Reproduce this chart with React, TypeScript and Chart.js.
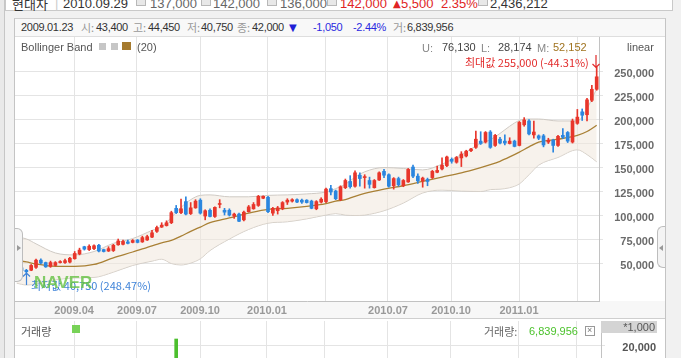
import React, { useEffect, useRef } from "react";
import { Chart, registerables } from "chart.js";
Chart.register(...registerables);

// ---- weekly candles (index 0 = first week shown, early Jan 2009) ----
const opens = [
  44000, 46000, 43400, 43500, 46500, 54000, 51500, 47500, 48500, 51500,
  51500, 52000, 55500, 60500, 68000, 65000, 66000, 69500, 65000, 63500,
  64000, 70000, 70500, 73000, 72500, 75000, 73000, 75000, 78000, 84000,
  88500, 90000, 93000, 108000, 103500, 115000, 102500, 108500, 116500, 100000,
  106000, 99500, 112000, 106000, 106000, 100000, 102000, 96000, 104500, 107500,
  111000, 118500, 119500, 103000, 105500, 107500, 114500, 115500, 117000, 116500,
  116500, 115500, 107500, 114500, 115000, 128500, 126000, 117000, 129500, 136000,
  131000, 142500, 140000, 137000, 129500, 137500, 146500, 143000, 131500, 139000,
  131500, 135500, 151000, 141500, 136500, 138000, 140000, 145500, 149000, 152500,
  159000, 156000, 160500, 162500, 168000, 171500, 178000, 177000, 187500, 173500,
  180000, 178000, 175500, 178000, 173500, 195000, 199000, 184500, 183500, 183500,
  177000, 179000, 173500, 184000, 187000, 177000, 196500, 208500, 205500, 220500,
  232000,
];
const highs = [
  46000, 46500, 44450, 49500, 55000, 55500, 52000, 53000, 52500, 53500,
  55000, 57000, 63000, 66500, 68500, 70000, 70000, 70500, 65500, 68000,
  70500, 76000, 75000, 75000, 75500, 75500, 79000, 80000, 85000, 89500,
  93000, 95000, 105000, 111000, 117500, 120000, 114000, 117000, 118000, 106500,
  107500, 109500, 117000, 108000, 107500, 103000, 103000, 105000, 111000, 114000,
  121500, 121000, 120500, 109000, 110000, 115000, 118000, 118000, 118000, 117500,
  117000, 116500, 116000, 119000, 129000, 132000, 127000, 131500, 138500, 142000,
  147000, 145000, 143000, 140500, 138000, 146000, 148500, 144000, 140000, 140500,
  138000, 149500, 153000, 144000, 140500, 139500, 147500, 152000, 160500, 162500,
  160500, 162000, 167000, 168500, 170500, 188500, 187800, 188000, 189000, 185000,
  182000, 184500, 181500, 179000, 198500, 202500, 200500, 199000, 184500, 185000,
  181000, 180000, 184000, 191000, 188000, 201000, 211000, 211500, 222500, 236000,
  255000,
];
const lows = [
  43500, 42500, 40750, 43000, 45500, 50000, 46500, 46500, 48000, 51000,
  50500, 51000, 55000, 59500, 64500, 64000, 65000, 62500, 62500, 63000,
  63000, 69500, 70000, 71000, 72000, 72000, 72500, 74500, 77500, 83000,
  88000, 89500, 92000, 102500, 102500, 101000, 101500, 108000, 102000, 96000,
  99000, 98500, 108500, 101000, 100000, 97500, 94000, 95000, 104000, 107000,
  110000, 118000, 103500, 100500, 102000, 106500, 112000, 114500, 114000, 113000,
  113500, 107500, 106500, 113500, 114000, 122000, 117000, 116000, 128500, 129000,
  130000, 131000, 129000, 129000, 129000, 137000, 140000, 130000, 128000, 131000,
  130500, 135000, 140000, 134000, 130000, 131500, 139000, 145000, 148000, 151500,
  155000, 155000, 151500, 161500, 167000, 170500, 174500, 176000, 170500, 172500,
  175000, 174000, 175000, 172000, 173000, 193500, 184500, 181000, 179500, 172000,
  175500, 166500, 172500, 180500, 176500, 176000, 195500, 199500, 199000, 219000,
  231000,
];
const closes = [
  45500, 43000, 42000, 48500, 54000, 51000, 47000, 51500, 51500, 52500,
  53500, 56000, 61000, 64500, 65500, 68500, 69000, 63500, 63000, 66000,
  69500, 74000, 73500, 71500, 74500, 72500, 77500, 78500, 82500, 88000,
  90500, 93000, 103500, 103500, 107500, 102000, 108500, 115500, 103000, 105500,
  99500, 109000, 112500, 104000, 101000, 102000, 94500, 104000, 109500, 112000,
  120500, 120500, 104500, 108000, 108500, 114000, 116500, 117000, 114500, 114500,
  114000, 108000, 115000, 117500, 128000, 125000, 118000, 130500, 137000, 130500,
  145000, 139000, 141000, 133000, 137000, 145000, 142500, 131000, 139000, 132500,
  137000, 148500, 141500, 136500, 139500, 136000, 146500, 147500, 153000, 161500,
  157000, 161000, 164500, 167500, 169800, 180000, 175500, 187000, 171500, 184000,
  176000, 176000, 178000, 172500, 197500, 200000, 185500, 187500, 181000, 174000,
  179000, 173500, 183000, 182000, 178000, 199000, 203000, 205000, 221000, 232000,
  245000,
];

// ---- Bollinger band (20), read at sampled weeks ----
const bandIndex = [0, 2, 4, 8, 12, 16, 20, 24, 28, 30, 32, 34, 36, 38, 40, 44, 48, 52, 56, 60, 64, 66, 68, 70, 72, 76, 80, 84, 88, 92, 96, 98, 100, 102, 104, 106, 108, 112, 116, 118, 120];
const bandUpper = [78000, 76130, 71000, 61500, 59500, 63000, 71500, 76500, 85000, 89000, 98500, 109000, 117000, 121500, 122000, 120000, 120000, 121500, 122000, 123000, 125000, 128500, 133000, 140500, 146000, 150500, 149500, 148000, 154000, 164000, 175500, 179500, 186000, 193500, 199500, 201000, 201000, 199000, 199000, 212000, 232500];
const bandMiddle = [54000, 52152, 50000, 47500, 47500, 49500, 56500, 62500, 69000, 72000, 74500, 79000, 84000, 88500, 93000, 98000, 103000, 107000, 108000, 110000, 113000, 115500, 117000, 120500, 123500, 128000, 131500, 136000, 140500, 145000, 150500, 153500, 157000, 161500, 166500, 172000, 177000, 180000, 184000, 188000, 194500];
const bandLower = [30000, 28174, 29000, 33500, 35500, 36000, 41500, 48500, 53000, 55000, 50500, 49000, 51000, 55500, 64000, 76000, 86000, 92500, 94000, 97000, 101000, 102500, 101000, 100500, 101000, 105500, 113500, 124000, 127000, 126000, 125500, 127500, 128000, 129500, 133500, 143000, 153000, 161000, 169000, 164000, 156500];

// ---- axes ----
const quarterPositions = [11.86, 24.89, 37.93, 51.79, 63.79, 76.82, 89.86, 103.93, 115.93];
const quarterLabels = ["2009.04", "2009.07", "2009.10", "2010.01", "", "2010.07", "2010.10", "2011.01", ""];
const priceTicks = [50000, 75000, 100000, 125000, 150000, 175000, 200000, 225000, 250000];

// ---- volume (only the bar that rises into view) ----
const volumeIndex = [33];
const volumeValues = [22500];
const volumeTicks = [20000];

const LATIN = '"Liberation Sans", "Noto Sans CJK KR", "DejaVu Sans", sans-serif';
const KR = '"Noto Sans CJK KR", "Liberation Sans", sans-serif';
const RED = "#e8362b";
const BLUE = "#2b86df";

const X_MIN = -0.35;
const X_MAX = 120.48;
const X_MAX_VOL = 120.9;
const Y_MIN = 11458;
const Y_MAX = 286458;

const fmt = (v: number) => String(v).replace(/\B(?=(\d{3})+(?!\d))/g, ",");

const T = ({ x, y, c = "#333", s = 11, w = 400, f = LATIN, ls = 0, children }: any) => (
  <div
    style={{
      position: "absolute",
      left: x,
      top: y - (s + 4) / 2,
      lineHeight: `${s + 4}px`,
      fontSize: s,
      fontWeight: w,
      color: c,
      fontFamily: f,
      letterSpacing: ls,
      whiteSpace: "nowrap",
    }}
  >
    {children}
  </div>
);

const Box = ({ x, y, w, h, style }: any) => (
  <div style={{ position: "absolute", left: x, top: y, width: w, height: h, boxSizing: "border-box", ...style }} />
);

export default function App() {
  const priceRef = useRef<HTMLCanvasElement>(null);
  const volRef = useRef<HTMLCanvasElement>(null);

  useEffect(() => {
    Chart.defaults.font.family = LATIN;
    const colors = opens.map((o, i) => (closes[i] >= o ? RED : BLUE));

    const makeX = (max: number, labels: boolean): any => ({
      type: "linear",
      min: X_MIN,
      max,
      offset: false,
      position: "bottom",
      afterBuildTicks: (s: any) => {
        s.ticks = quarterPositions.map((v) => ({ value: v }));
      },
      ticks: {
        display: labels,
        autoSkip: false,
        maxRotation: 0,
        padding: 3,
        color: "#999999",
        font: { size: 11, weight: "bold", family: LATIN },
        callback: (_v: any, i: number) => quarterLabels[i],
      },
      grid: { color: "#e4e4e4", drawTicks: false, offset: false },
      border: { color: "#c2c2c2" },
      afterFit: (s: any) => {
        s.height = labels ? 17 : 0;
        s.paddingLeft = 0;
        s.paddingRight = 0;
      },
    });

    const makeY = (min: number, max: number, ticks: number[], color: string, labelOffset: number): any => ({
      type: "linear",
      position: "right",
      min,
      max,
      afterBuildTicks: (s: any) => {
        s.ticks = ticks.map((v) => ({ value: v }));
      },
      ticks: {
        callback: (v: any) => fmt(v),
        color,
        font: { size: 11, weight: "bold", family: LATIN },
        crossAlign: "far",
        padding: 4,
        labelOffset,
      },
      grid: { color: "#e4e4e4", tickLength: 4 },
      border: { color: "#c2c2c2" },
      afterFit: (s: any) => {
        s.width = 55;
        s.paddingTop = 0;
        s.paddingBottom = 0;
      },
    });

    const price = new Chart(priceRef.current!, {
      type: "bar",
      data: {
        datasets: [
          {
            type: "bar",
            label: "body",
            data: opens.map((o, i) => ({ x: i, y: [o, closes[i]] })) as any,
            backgroundColor: colors,
            barThickness: 3,
            minBarLength: 1,
            grouped: false,
            borderWidth: 0,
            order: 0,
          } as any,
          {
            type: "bar",
            label: "wick",
            data: lows.map((l, i) => ({ x: i, y: [l, highs[i]] })) as any,
            backgroundColor: colors,
            barThickness: 1,
            grouped: false,
            borderWidth: 0,
            order: 1,
          } as any,
          {
            type: "line",
            label: "middle",
            data: bandIndex.map((x, k) => ({ x, y: bandMiddle[k] })),
            borderColor: "#a98035",
            borderWidth: 1.3,
            pointRadius: 0,
            tension: 0.4,
            cubicInterpolationMode: "monotone",
            fill: false,
            order: 2,
          } as any,
          {
            type: "line",
            label: "upper",
            data: bandIndex.map((x, k) => ({ x, y: bandUpper[k] })),
            borderColor: "#cfcac4",
            borderWidth: 1,
            pointRadius: 0,
            tension: 0.4,
            cubicInterpolationMode: "monotone",
            fill: "+1",
            backgroundColor: "rgba(240,232,220,0.55)",
            order: 3,
          } as any,
          {
            type: "line",
            label: "lower",
            data: bandIndex.map((x, k) => ({ x, y: bandLower[k] })),
            borderColor: "#cfcac4",
            borderWidth: 1,
            pointRadius: 0,
            tension: 0.4,
            cubicInterpolationMode: "monotone",
            fill: false,
            order: 4,
          } as any,
        ],
      },
      options: {
        responsive: false,
        animation: false,
        devicePixelRatio: 1,
        events: [],
        layout: { padding: 0 },
        plugins: { legend: { display: false }, tooltip: { enabled: false } },
        scales: {
          x: makeX(X_MAX, true),
          y: makeY(Y_MIN, Y_MAX, priceTicks, "#6a6a6a", 2),
        },
      } as any,
    });

    const vol = new Chart(volRef.current!, {
      type: "bar",
      data: {
        datasets: [
          {
            label: "volume",
            data: volumeIndex.map((x, k) => ({ x, y: volumeValues[k] })),
            backgroundColor: "#4cbf2e",
            barThickness: 3,
            borderWidth: 0,
          } as any,
        ],
      },
      options: {
        responsive: false,
        animation: false,
        devicePixelRatio: 1,
        events: [],
        layout: { padding: { top: 2 } },
        plugins: { legend: { display: false }, tooltip: { enabled: false } },
        scales: {
          x: makeX(X_MAX_VOL, false),
          y: makeY(0, 30000, volumeTicks, "#555555", 3),
        },
      } as any,
    });

    return () => {
      price.destroy();
      vol.destroy();
    };
  }, []);

  const icon = (x: number) => (
    <Box x={x} y={-4} w={10} h={10} style={{ border: "1px solid #b8b8b8", background: "#e8e8e8" }} />
  );

  return (
    <div
      style={{
        position: "absolute",
        left: 0,
        top: 0,
        width: 681,
        height: 358,
        overflow: "hidden",
        background: "#f1f1f1",
      }}
    >
      {/* left frame */}
      <Box x={0} y={0} w={4} h={358} style={{ background: "#e9e9e9" }} />
      <Box x={4} y={0} w={1} h={358} style={{ background: "#c6c6c6" }} />

      {/* header box (cut off at top) */}
      <Box x={5} y={-12} w={668} h={23} style={{ background: "#fff", border: "1px solid #c9c9c9" }} />
      <T x={12} y={3.7} s={13} c="#333" f={KR}>현대차</T>
      <T x={55} y={3.7} s={13} c="#cccccc">|</T>
      <T x={63} y={3.7} s={13} c="#333">2010.09.29</T>
      {icon(136)}
      <T x={150} y={3.7} s={13} c="#666">137,000</T>
      {icon(201)}
      <T x={213} y={3.7} s={13} c="#666">142,000</T>
      {icon(267)}
      <T x={280} y={3.7} s={13} c="#666">136,000</T>
      {icon(327)}
      <T x={340} y={3.7} s={13} c="#e02424">142,000</T>
      <T x={393} y={3.7} s={10} c="#e02424" f='"DejaVu Sans", sans-serif'>▲</T>
      <T x={401} y={3.7} s={13} c="#e02424">5,500</T>
      <T x={441} y={3.7} s={13} c="#e02424">2.35%</T>
      {icon(478)}
      <T x={490} y={3.7} s={13} c="#333">2,436,212</T>

      {/* chart frame */}
      <Box
        x={14}
        y={18}
        w={652}
        h={345}
        style={{
          background: "#fff",
          borderLeft: "1px solid #c4c4c4",
          borderRight: "1px solid #c4c4c4",
          borderTop: "1px solid #cfcfcf",
        }}
      />
      {/* info bar */}
      <Box x={15} y={19} w={650} h={18} style={{ background: "#f8f8f8", borderBottom: "1px solid #dedede" }} />
      <T x={21} y={27.5} ls={-0.3}>2009.01.23</T>
      <T x={81} y={27.5} c="#999" f={KR}>시:</T>
      <T x={96} y={27.5} ls={-0.3}>43,400</T>
      <T x={133} y={27.5} c="#999" f={KR}>고:</T>
      <T x={148} y={27.5} ls={-0.3}>44,450</T>
      <T x={187} y={27.5} c="#999" f={KR}>저:</T>
      <T x={201} y={27.5} ls={-0.3}>40,750</T>
      <T x={237} y={27.5} c="#999" f={KR}>종:</T>
      <T x={252} y={27.5} ls={-0.3}>42,000</T>
      <T x={289} y={27.5} s={10} c="#1f1fd6" f='"DejaVu Sans", sans-serif'>▼</T>
      <T x={313} y={27.5} c="#2a2ae0" ls={-0.3}>-1,050</T>
      <T x={353} y={27.5} c="#2a2ae0" ls={-0.3}>-2.44%</T>
      <T x={393} y={27.5} c="#999" f={KR}>거:</T>
      <T x={407} y={27.5} ls={-0.3}>6,839,956</T>

      {/* x label band and volume pane top line */}
      <Box x={15} y={301} w={650} h={18} style={{ background: "#f7f7f7", borderBottom: "1px solid #cfcfcf" }} />

      <canvas
        ref={priceRef}
        width={639}
        height={281}
        style={{ position: "absolute", left: 15, top: 37, width: 639, height: 281 }}
      />
      <canvas
        ref={volRef}
        width={641}
        height={74}
        style={{ position: "absolute", left: 15, top: 319, width: 641, height: 74 }}
      />

      {/* legend row */}
      <T x={21} y={47.5} c="#555">Bollinger Band</T>
      <Box x={99} y={43} w={7} h={7} style={{ background: "#c6c6c6" }} />
      <Box x={111} y={43} w={7} h={7} style={{ background: "#c6c6c6" }} />
      <Box x={122} y={42} w={9} h={8} style={{ background: "#a57a2e" }} />
      <T x={137} y={47.5} c="#555">(20)</T>
      <T x={422} y={48.5} c="#888">U:</T>
      <T x={442} y={47.5} c="#444">76,130</T>
      <T x={481} y={48.5} c="#888">L:</T>
      <T x={498} y={47.5} c="#444">28,174</T>
      <T x={537} y={48.5} c="#888">M:</T>
      <T x={553} y={47.5} c="#a0731f">52,152</T>
      <T x={627} y={47} c="#555">linear</T>

      {/* max / min markers */}
      <T x={465} y={62} c="#e22b2b" f={KR}>최대값 255,000 (-44.31%)</T>
      <svg style={{ position: "absolute", left: 591, top: 55 }} width={10} height={14}>
        <path d="M5 0 V12.5 M1.5 9 L5 12.5 L8.5 9" stroke="#e22b2b" strokeWidth={1.2} fill="none" />
      </svg>
      <T x={31} y={285} c="#3f83d8" f={KR}>최저값 40,750 (248.47%)</T>
      <svg style={{ position: "absolute", left: 22, top: 272 }} width={10} height={14}>
        <path d="M4.5 1 V13 M1 4.5 L4.5 1 L8 4.5" stroke="#3f83d8" strokeWidth={1.2} fill="none" />
      </svg>
      <div
        style={{
          position: "absolute",
          left: 34,
          top: 273,
          fontFamily: LATIN,
          fontWeight: 700,
          fontSize: 17,
          lineHeight: "19px",
          color: "#62c03f",
          opacity: 0.78,
        }}
      >
        NAVER
      </div>

      {/* side tabs */}
      <Box
        x={15}
        y={228}
        w={8}
        h={54}
        style={{ background: "#f4f4f4", border: "1px solid #bdbdbd", borderLeft: "none", borderRadius: "0 6px 6px 0" }}
      />
      <div
        style={{
          position: "absolute",
          left: 17,
          top: 245,
          width: 0,
          height: 0,
          borderTop: "3px solid transparent",
          borderBottom: "3px solid transparent",
          borderLeft: "4px solid #999",
        }}
      />
      <Box
        x={657}
        y={226}
        w={8}
        h={42}
        style={{ background: "#f4f4f4", border: "1px solid #bdbdbd", borderRight: "none", borderRadius: "6px 0 0 6px" }}
      />
      <div
        style={{
          position: "absolute",
          left: 659,
          top: 245,
          width: 0,
          height: 0,
          borderTop: "3px solid transparent",
          borderBottom: "3px solid transparent",
          borderRight: "4px solid #999",
        }}
      />

      {/* volume pane texts */}
      <T x={21} y={331} c="#555" f={KR}>거래량</T>
      <Box x={72} y={325} w={8} h={8} style={{ background: "#77d257" }} />
      <T x={484} y={331} c="#666" f={KR}>거래량:</T>
      <T x={529} y={331} c="#4cc22c">6,839,956</T>
      <Box x={585} y={326} w={10} h={10} style={{ border: "1px solid #999", background: "#fff" }} />
      <T x={587} y={330.5} s={9} c="#777">×</T>
      <Box x={601} y={321} w={56} h={12} style={{ background: "#d4d4d4" }} />
      <div
        style={{
          position: "absolute",
          left: 601,
          top: 320,
          width: 54,
          textAlign: "right",
          fontFamily: LATIN,
          fontSize: 11,
          lineHeight: "14px",
          color: "#555",
        }}
      >
        *1,000
      </div>
    </div>
  );
}
